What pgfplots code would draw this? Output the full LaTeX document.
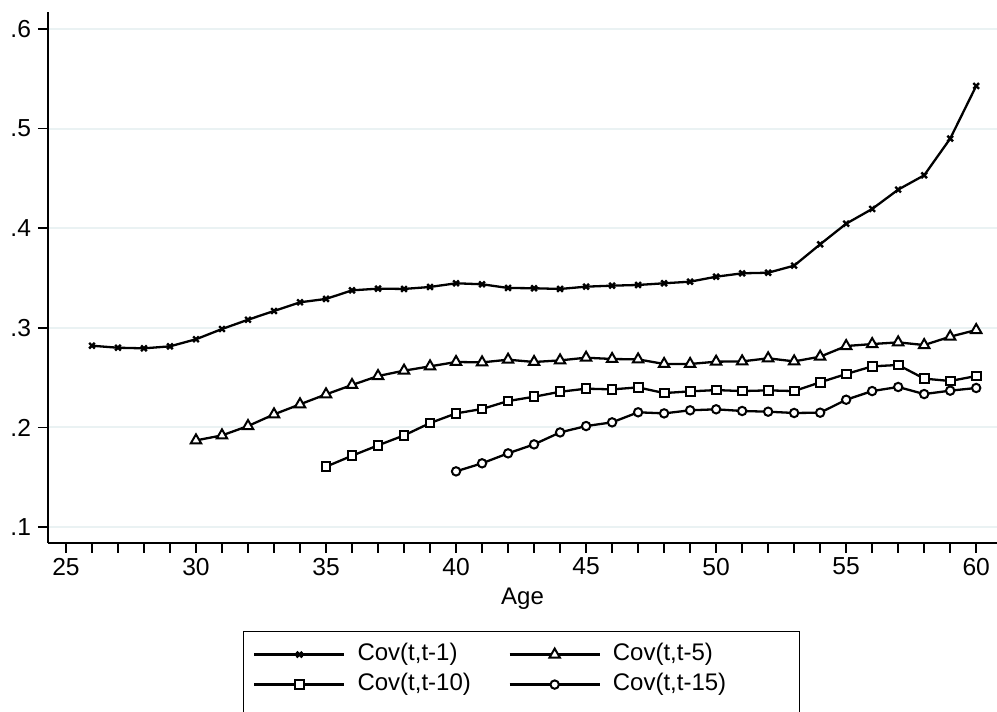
\documentclass[border=0pt]{standalone}
\usepackage{fontspec}
\setmainfont{Liberation Sans}
\usepackage{pgfplots}
\pgfplotsset{compat=1.18}
\usetikzlibrary{calc}
\definecolor{gridc}{HTML}{EAF2F3}

\begin{document}
\begin{tikzpicture}
\pgfplotsset{
  every mark/.append style={solid},
}
\begin{axis}[
  name=ax,
  scale only axis,
  width=474.5pt, height=265.5pt,
  xmin=24.31, xmax=60.8, ymin=0.084, ymax=0.617,
  axis x line*=bottom, axis y line*=left,
  axis line style={line width=0.7pt},
  xtick={25,30,...,60},
  minor xtick={26,...,59},
  ytick={0.1,0.2,0.3,0.4,0.5,0.6},
  yticklabels={.1,.2,.3,.4,.5,.6},
  ymajorgrids,
  grid style={color=gridc, line width=1pt},
  tick align=outside,
  major tick length=5pt, minor tick length=5pt,
  tick style={black, line width=0.7pt},
  /pgf/number format/assume math mode=true,
  tick label style={font=\fontsize{12.3}{14}\selectfont},
  xticklabel style={yshift=1pt},
  xlabel={Age},
  xlabel style={font=\fontsize{12}{14}\selectfont, yshift=0.5pt},
  legend columns=2,
  legend style={
    at={(0.499,-0.1657)}, anchor=north,
    draw=black, line width=0.6pt,
    font=\fontsize{12}{14}\selectfont,
    inner xsep=5pt, inner ysep=4pt,
    nodes={text height=9pt, text depth=3pt, inner ysep=1.5pt, inner xsep=6pt, align=left},
    cells={anchor=west},
    /tikz/column 2/.style={column sep=5.5pt, nodes={text width=64pt}},
    /tikz/column 4/.style={nodes={text width=82.5pt}},
    /tikz/row 2/.style={nodes={text depth=12pt, yshift=-4.5pt}},
  },
  legend image code/.code={
    \draw[#1, mark repeat=2, mark phase=2] plot coordinates {(0pt,0pt) (22.5pt,0pt) (45pt,0pt)};
  },
  every axis plot/.append style={black, line width=1.15pt},
]
\addplot[mark=x, mark size=2pt, mark options={line width=1.2pt}] coordinates {
(26,0.282) (27,0.280) (28,0.2794) (29,0.2814) (30,0.2885) (31,0.2988) (32,0.3081) (33,0.3169)
(34,0.3256) (35,0.329) (36,0.3376) (37,0.3393) (38,0.339) (39,0.341) (40,0.3447) (41,0.3437)
(42,0.340) (43,0.3397) (44,0.339) (45,0.3413) (46,0.3423) (47,0.343) (48,0.3447) (49,0.3463)
(50,0.3513) (51,0.3547) (52,0.3553) (53,0.3624) (54,0.3838) (55,0.4045) (56,0.4193) (57,0.4387)
(58,0.4531) (59,0.4899) (60,0.5428)
};
\addlegendentry{Cov(t,t-1)}
\addplot[mark=triangle*, mark size=3pt, mark options={fill=white, line width=1pt}] coordinates {
(30,0.187) (31,0.192) (32,0.2014) (33,0.2131) (34,0.2232) (35,0.2332) (36,0.2426) (37,0.2516)
(38,0.257) (39,0.2613) (40,0.2657) (41,0.2653) (42,0.268) (43,0.2657) (44,0.2673) (45,0.270)
(46,0.2687) (47,0.2683) (48,0.2637) (49,0.2637) (50,0.266) (51,0.2663) (52,0.2694) (53,0.2663)
(54,0.271) (55,0.2817) (56,0.2837) (57,0.2854) (58,0.2827) (59,0.2911) (60,0.2978)
};
\addlegendentry{Cov(t,t-5)}
\addplot[mark=square*, mark size=2.2pt, mark options={fill=white, line width=1pt}] coordinates {
(35,0.1606) (36,0.1716) (37,0.182) (38,0.192) (39,0.2044) (40,0.2141) (41,0.2185) (42,0.2265)
(43,0.2308) (44,0.2358) (45,0.2389) (46,0.2382) (47,0.2402) (48,0.2345) (49,0.2362) (50,0.2375)
(51,0.2365) (52,0.2372) (53,0.2365) (54,0.2453) (55,0.2536) (56,0.2613) (57,0.2627) (58,0.249)
(59,0.2466) (60,0.2516)
};
\addlegendentry{Cov(t,t-10)}
\addplot[mark=*, mark size=2.1pt, mark options={fill=white, line width=1pt}] coordinates {
(40,0.1559) (41,0.164) (42,0.174) (43,0.183) (44,0.195) (45,0.2014) (46,0.2051) (47,0.2152)
(48,0.2141) (49,0.2172) (50,0.2182) (51,0.2165) (52,0.2158) (53,0.2145) (54,0.2148) (55,0.2278)
(56,0.2365) (57,0.2406) (58,0.2335) (59,0.2369) (60,0.2396)
};
\addlegendentry{Cov(t,t-15)}
\end{axis}
\pgfresetboundingbox
\path[use as bounding box] ($(ax.south west)+(-24pt,-84.5pt)$) rectangle ($(ax.north east)+(0pt,6pt)$);
\end{tikzpicture}
\end{document}
